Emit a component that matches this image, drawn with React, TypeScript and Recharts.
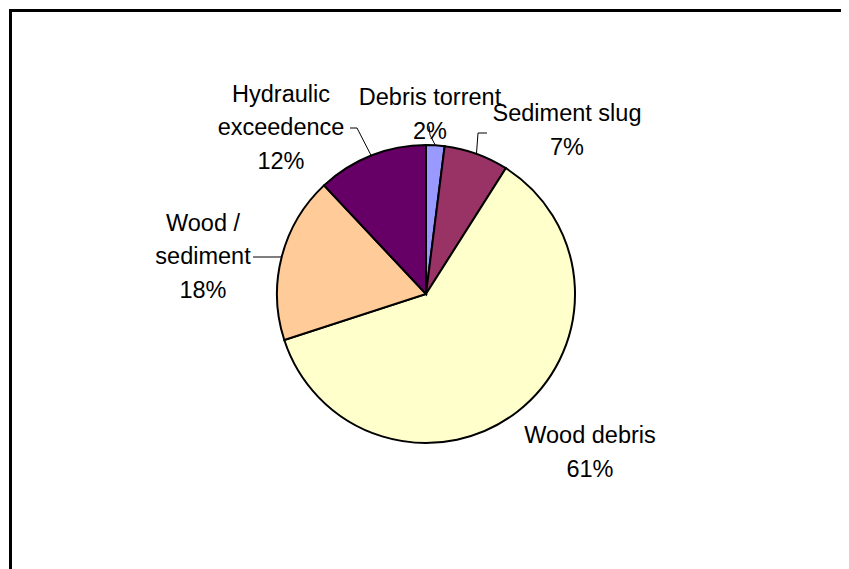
import React from "react";
import { PieChart, Pie, Cell } from "recharts";

// Causes, clockwise from 12 o'clock
const causes = ["Debris torrent", "Sediment slug", "Wood debris", "Wood /\nsediment", "Hydraulic\nexceedence"];
const shares = [2, 7, 61, 18, 12];
const colors = ["#9999FF", "#993366", "#FFFFCC", "#FFCC99", "#660066"];

// label block centre and leader line bends, relative to the pie centre
const labelLayout = [
    { dx: 4, dy: -180, line: [[4, -159], [3, -168]] },
    { dx: 141, dy: -164, line: [[52, -161], [61, -161]] },
    { dx: 164, dy: 158, line: null },
    { dx: -223, dy: -38, line: [[-150, -37], [-173, -37]] },
    { dx: -145, dy: -167, line: [[-69, -166], [-76, -166]] },
];

const data = causes.map((name, i) => ({ name, value: shares[i] }));

const FONT = "'Liberation Sans', Arial, sans-serif";
const LINE_H = 33.5;
const RAD = Math.PI / 180;

const renderLabel = (props: any) => {
    const { cx, cy, midAngle, outerRadius, index, name, percent } = props;
    const lay = labelLayout[index];
    const lines = [...String(name).split("\n"), `${Math.round(percent * 100)}%`];
    const x = cx + lay.dx;
    const top = cy + lay.dy - ((lines.length - 1) * LINE_H) / 2;

    let path = null;
    if (lay.line) {
        const ex = cx + outerRadius * Math.cos(-midAngle * RAD);
        const ey = cy + outerRadius * Math.sin(-midAngle * RAD);
        const pts = [[ex, ey], ...lay.line.map(([px, py]) => [cx + px, cy + py])];
        path = <polyline points={pts.map(p => p.join(",")).join(" ")} fill="none" stroke="#000" strokeWidth={1} />;
    }

    return (
        <g>
            {path}
            {lines.map((t, k) => (
                <text key={k} x={x} y={top + k * LINE_H + 8} textAnchor="middle" fill="#000" fontSize={23.5} fontFamily={FONT}>
                    {t}
                </text>
            ))}
        </g>
    );
};

export default function App() {
    return (
        <div style={{ position: "relative", width: 841, height: 561, overflow: "hidden", background: "#fff" }}>
            <div style={{ position: "absolute", left: 1, top: 1, width: 900, height: 600, border: "3px solid #000" }} />
            <div style={{ position: "absolute", left: 0, top: 0 }}>
                <PieChart width={841} height={561} margin={{ top: 0, right: 0, bottom: 0, left: 0 }}>
                    <Pie
                        data={data}
                        dataKey="value"
                        nameKey="name"
                        cx={418}
                        cy={286}
                        outerRadius={149}
                        startAngle={90}
                        endAngle={-270}
                        stroke="#000"
                        strokeWidth={2}
                        label={renderLabel}
                        labelLine={false}
                        isAnimationActive={false}
                    >
                        {data.map((d, i) => (
                            <Cell key={d.name} fill={colors[i]} />
                        ))}
                    </Pie>
                </PieChart>
            </div>
        </div>
    );
}
